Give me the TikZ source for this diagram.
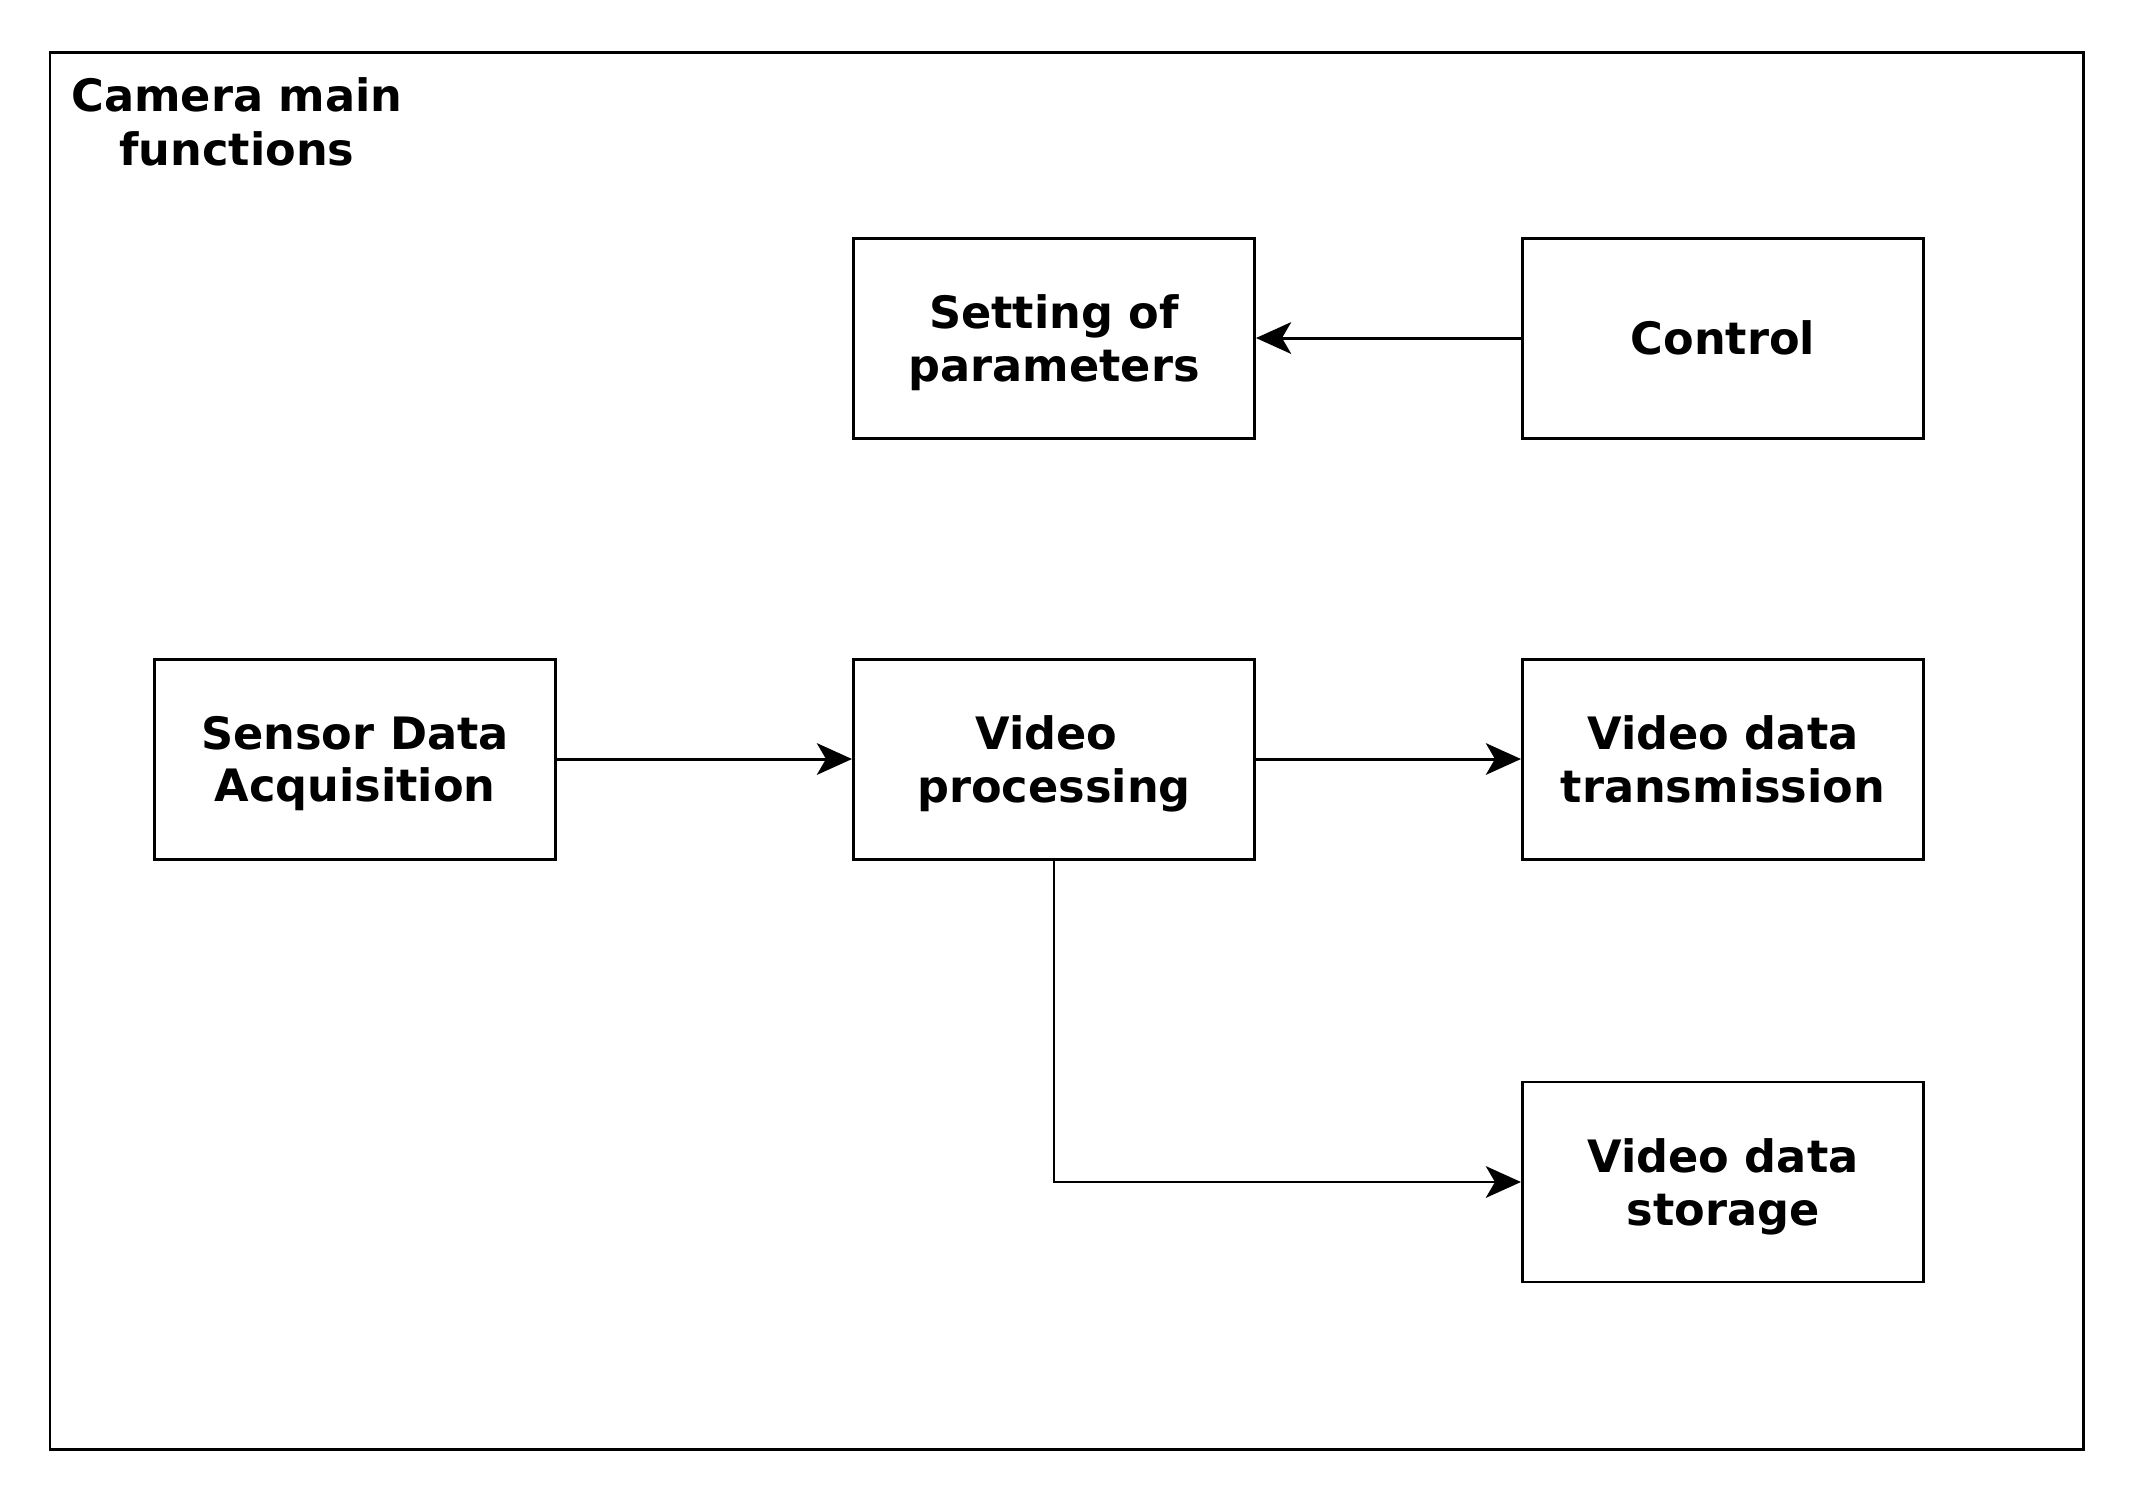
\documentclass[tikz,border=0pt]{standalone}
\usepackage{fontspec}
\setmainfont{DejaVu Sans}
\usetikzlibrary{arrows.meta, positioning}

\begin{document}
\begin{tikzpicture}[
    block/.style={draw, line width=0.85pt, minimum width=4.01cm, minimum height=2cm, inner sep=0pt, text depth=0pt, align=center, font=\fontsize{12.7}{14.9}\selectfont\bfseries},
    flow/.style={-{Stealth[length=10pt, width=9pt, inset=2.6pt]}, line width=0.85pt}
]
    \useasboundingbox (0,0) rectangle (21.32,-15);
    \node (frame) [draw, line width=0.85pt, minimum width=20.33cm, minimum height=13.97cm, inner sep=0pt] at (10.665,-7.505) {};
    \node (title) at (2.37,-1.22) [align=center, font=\fontsize{12.7}{15.3}\selectfont\bfseries] {Camera main\\functions};

    \node (proc) [block] at (10.54,-7.59) {Video\kern0.35em\\processing};
    \node (sensor) [block, left=2.95cm of proc] {Sensor Data\\Acquisition};
    \node (trans) [block, right=2.65cm of proc] {Video data\\transmission};
    \node (store) [block, below=2.2cm of trans] {Video data\\storage};
    \node (setting) [block, above=2.18cm of proc] {Setting of\\parameters};
    \node (control) [block, right=2.65cm of setting] {Control};

    \draw[flow] (sensor) -- (proc);
    \draw[flow] (proc) -- (trans);
    \draw[flow] (control) -- (setting);
    \draw[flow] (proc) |- (store);
\end{tikzpicture}
\end{document}
